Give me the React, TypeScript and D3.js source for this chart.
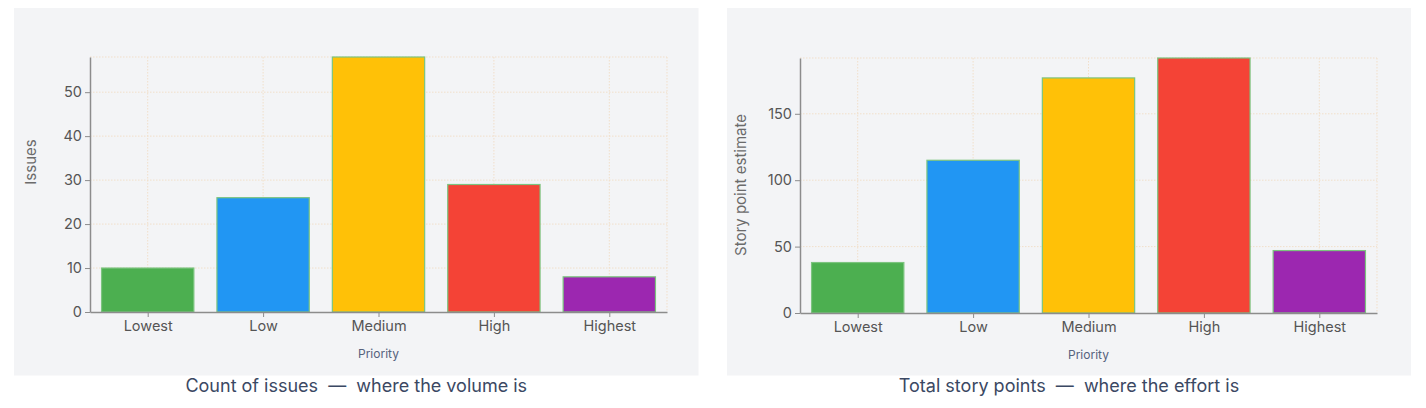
import React, { useRef, useEffect } from 'react';
import * as d3 from 'd3';

const priorities = ['Lowest', 'Low', 'Medium', 'High', 'Highest'];
const barColors = ['#4caf50', '#2196f3', '#ffc107', '#f44336', '#9c27b0'];
const issueCounts = [10, 26, 58, 29, 8];
const storyPoints = [38, 115, 177, 192, 47];

const issuesTicks = [0, 10, 20, 30, 40, 50];
const pointsTicks = [0, 50, 100, 150];

interface PanelConfig {
	x: number;
	y: number;
	w: number;
	h: number;
	plotLeft: number;
	plotRight: number;
	plotTop: number;
	plotBottom: number;
	values: number[];
	ticks: number[];
	yTitle: string;
	yTitleX: number;
	yTitleY: number;
	caption: string;
}

const panels: PanelConfig[] = [
	{
		x: 14, y: 8, w: 684.5, h: 367.5,
		plotLeft: 90, plotRight: 667, plotTop: 57, plotBottom: 312,
		values: issueCounts, ticks: issuesTicks,
		yTitle: 'Issues', yTitleX: 36, yTitleY: 162,
		caption: 'Count of issues  —  where the volume is',
	},
	{
		x: 727, y: 8, w: 684, h: 367.5,
		plotLeft: 800, plotRight: 1377, plotTop: 58, plotBottom: 313,
		values: storyPoints, ticks: pointsTicks,
		yTitle: 'Story point estimate', yTitleX: 746, yTitleY: 185,
		caption: 'Total story points  —  where the effort is',
	},
];

const FONT = 'Inter, "Noto Sans", "DejaVu Sans", sans-serif';

const App: React.FC = () => {
	const svgRef = useRef<SVGSVGElement | null>(null);

	useEffect(() => {
		if (!svgRef.current) return;
		const svg = d3.select(svgRef.current);
		svg.selectAll('*').remove();

		panels.forEach(p => {
			const g = svg.append('g');

			// panel background
			g.append('rect')
				.attr('x', p.x).attr('y', p.y)
				.attr('width', p.w).attr('height', p.h)
				.attr('fill', '#f3f4f6');

			const x = d3.scaleBand<string>()
				.domain(priorities)
				.range([p.plotLeft, p.plotRight])
				.paddingInner(0.2)
				.paddingOuter(0.1);
			const xc = d3.scalePoint<string>()
				.domain(priorities)
				.range([p.plotLeft, p.plotRight])
				.padding(0.5);
			const yMax = d3.max(p.values) ?? 0;
			const y = d3.scaleLinear()
				.domain([0, yMax])
				.range([p.plotBottom, p.plotTop]);

			// dotted grid
			const grid = g.append('g')
				.attr('stroke', '#f1dfca')
				.attr('stroke-width', 1)
				.attr('stroke-dasharray', '1.5,1.5');
			[...p.ticks.filter(t => t > 0), yMax].forEach(t => {
				grid.append('line')
					.attr('x1', p.plotLeft).attr('x2', p.plotRight)
					.attr('y1', y(t)).attr('y2', y(t));
			});
			[...priorities.map(c => xc(c) ?? 0), p.plotRight].forEach(v => {
				grid.append('line')
					.attr('x1', v).attr('x2', v)
					.attr('y1', p.plotTop).attr('y2', p.plotBottom);
			});

			// bars
			g.append('g')
				.selectAll('rect')
				.data(p.values)
				.enter().append('rect')
				.attr('x', (_, i) => x(priorities[i]) ?? 0)
				.attr('width', x.bandwidth())
				.attr('y', d => y(d))
				.attr('height', d => y(0) - y(d))
				.attr('fill', (_, i) => barColors[i])
				.attr('stroke', '#7cc47f')
				.attr('stroke-width', 1.2);

			// y-axis
			g.append('g')
				.attr('transform', `translate(${p.plotLeft},0)`)
				.call(d3.axisLeft(y).tickValues(p.ticks).tickSize(5).tickPadding(3).tickSizeOuter(0))
				.call(a => a.select('.domain').attr('stroke', '#8c8c8c').attr('stroke-width', 1.5))
				.call(a => a.selectAll('.tick line').attr('stroke', '#8c8c8c'))
				.call(a => a.selectAll('.tick text')
					.attr('fill', '#555')
					.attr('font-size', 14.5)
					.attr('font-family', FONT));

			// x-axis
			g.append('g')
				.attr('transform', `translate(0,${p.plotBottom})`)
				.call(d3.axisBottom(xc).tickSize(5).tickPadding(4).tickSizeOuter(0))
				.call(a => a.select('.domain').attr('stroke', '#8c8c8c').attr('stroke-width', 1.5))
				.call(a => a.selectAll('.tick line').attr('stroke', '#8c8c8c'))
				.call(a => a.selectAll('.tick text')
					.attr('fill', '#555')
					.attr('font-size', 14.5)
					.attr('font-family', FONT));

			// axis titles
			g.append('text')
				.attr('transform', `translate(${p.yTitleX},${p.yTitleY}) rotate(-90)`)
				.attr('text-anchor', 'middle')
				.attr('font-size', 15)
				.attr('font-family', FONT)
				.attr('fill', '#6b6b6b')
				.text(p.yTitle);

			g.append('text')
				.attr('x', (p.plotLeft + p.plotRight) / 2)
				.attr('y', p.plotBottom + 46)
				.attr('text-anchor', 'middle')
				.attr('font-size', 12)
				.attr('font-family', FONT)
				.attr('fill', '#56627d')
				.text('Priority');

			// caption
			g.append('text')
				.attr('x', p.x + p.w / 2)
				.attr('y', 392)
				.attr('text-anchor', 'middle')
				.attr('font-size', 18)
				.attr('font-family', FONT)
				.attr('fill', '#3b4863')
				.style('white-space', 'pre')
				.text(p.caption);
		});
	}, []);

	return (
		<svg
			ref={svgRef}
			width={1426}
			height={408}
			style={{ position: 'absolute', left: 0, top: 0, background: '#fff' }}
		/>
	);
};

export default App;
